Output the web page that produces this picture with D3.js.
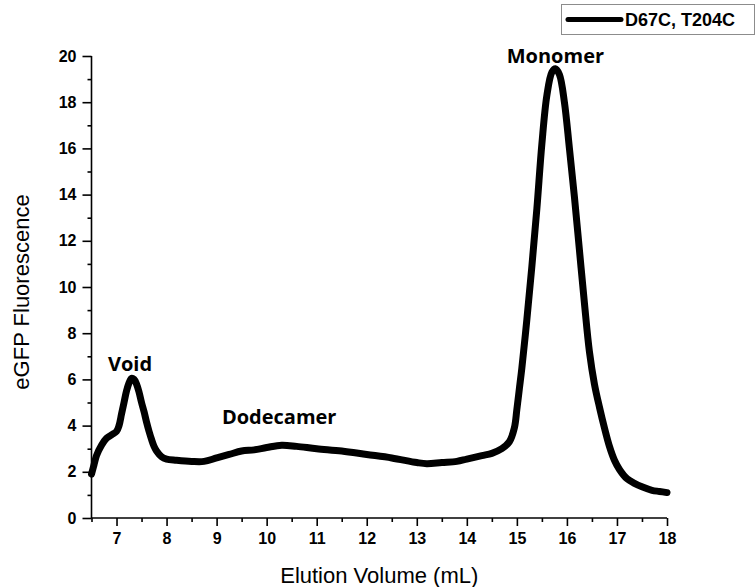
<!DOCTYPE html>
<html>
<head>
<meta charset="utf-8">
<script src="https://cdn.jsdelivr.net/npm/d3@7"></script>
<style>
  html, body { margin: 0; padding: 0; background: #fff; }
  svg { display: block; }
  .tick text { font-family: "Liberation Sans", Arial, sans-serif; font-weight: bold; font-size: 16px; fill: #000; }
  .axis path, .axis line { stroke: #000; stroke-width: 1.6px; }
</style>
</head>
<body>
<script>
// Elution volume (mL) and eGFP fluorescence for the size-exclusion trace
const volume = [6.5, 6.55, 6.6, 6.7, 6.8, 6.9, 7.0, 7.05, 7.1, 7.15, 7.2, 7.25, 7.3, 7.35, 7.4, 7.45,
  7.5, 7.55, 7.6, 7.65, 7.7, 7.75, 7.8, 7.9, 8.0, 8.2, 8.5, 8.75, 9.0, 9.25, 9.5, 9.75, 10.0, 10.3,
  10.6, 11.0, 11.5, 12.0, 12.5, 13.0, 13.2, 13.5, 13.8, 14.0, 14.3, 14.5, 14.7, 14.85, 14.95, 15.0,
  15.05, 15.1, 15.2, 15.3, 15.4, 15.5, 15.6, 15.7, 15.77, 15.85, 15.95, 16.05, 16.15, 16.25, 16.35,
  16.45, 16.55, 16.65, 16.75, 16.85, 16.95, 17.05, 17.2, 17.35, 17.5, 17.7, 17.85, 18.0];
const fluorescence = [1.9, 2.3, 2.7, 3.15, 3.45, 3.6, 3.75, 4.0, 4.5, 5.0, 5.5, 5.85, 6.05, 6.0, 5.8, 5.45,
  5.0, 4.6, 4.15, 3.75, 3.4, 3.1, 2.9, 2.65, 2.55, 2.5, 2.45, 2.45, 2.6, 2.75, 2.9, 2.95, 3.05, 3.15,
  3.1, 3.0, 2.9, 2.75, 2.6, 2.4, 2.35, 2.4, 2.45, 2.55, 2.7, 2.8, 3.0, 3.3, 3.9, 4.7,
  5.6, 6.5, 8.6, 10.9, 13.4, 16.2, 18.3, 19.3, 19.45, 19.2, 18.0, 16.0, 13.9, 11.6, 9.3,
  7.2, 5.8, 4.8, 3.9, 3.1, 2.5, 2.1, 1.7, 1.5, 1.35, 1.2, 1.15, 1.1];

const xMajorTicks = [7, 8, 9, 10, 11, 12, 13, 14, 15, 16, 17, 18];
const xMinorTicks = [6.5, 7.5, 8.5, 9.5, 10.5, 11.5, 12.5, 13.5, 14.5, 15.5, 16.5, 17.5];
const yMajorTicks = [0, 2, 4, 6, 8, 10, 12, 14, 16, 18, 20];
const yMinorTicks = [1, 3, 5, 7, 9, 11, 13, 15, 17, 19];

// Peak annotations: label and the volume / height of its baseline
const peakLabels = ["Void", "Dodecamer", "Monomer"];
const peakVolumes = [7.27, 10.25, 15.77];
const peakHeights = [6.35, 4.07, 19.7];

const seriesName = "D67C, T204C";

const W = 756, H = 587;
const svg = d3.select("body").append("svg").attr("width", W).attr("height", H);

const x = d3.scaleLinear().domain([6.5, 18]).range([91.5, 667]);
const y = d3.scaleLinear().domain([0, 20]).range([518, 56]);

// X axis: labelled whole-mL ticks, unlabelled half-mL ticks
const gx = svg.append("g").attr("class", "axis").attr("transform", `translate(0,${y(0)})`);
gx.call(d3.axisBottom(x).tickValues(xMinorTicks).tickSize(4).tickFormat(""));
gx.call(g => g.select(".domain").remove());
const gx2 = svg.append("g").attr("class", "axis").attr("transform", `translate(0,${y(0)})`);
gx2.call(d3.axisBottom(x).tickValues(xMajorTicks).tickSize(8).tickSizeOuter(0).tickPadding(7).tickFormat(d3.format("d")));
gx2.select(".domain").attr("d", `M${x(6.5)},0H${x(18)}`);

// Y axis
const gy = svg.append("g").attr("class", "axis").attr("transform", `translate(${x(6.5)},0)`);
gy.call(d3.axisLeft(y).tickValues(yMinorTicks).tickSize(4).tickFormat(""));
gy.call(g => g.select(".domain").remove());
const gy2 = svg.append("g").attr("class", "axis").attr("transform", `translate(${x(6.5)},0)`);
gy2.call(d3.axisLeft(y).tickValues(yMajorTicks).tickSize(9).tickSizeOuter(0).tickPadding(6).tickFormat(d3.format("d")));
gy2.select(".domain").attr("d", `M0,${y(0)}V${y(20)}`);

// Axis titles
svg.append("text")
  .attr("x", (x(6.5) + x(18)) / 2).attr("y", 583)
  .attr("text-anchor", "middle")
  .style("font-family", "'Liberation Sans', Arial, sans-serif").style("font-size", "22px")
  .text("Elution Volume (mL)");
svg.append("text")
  .attr("transform", `translate(29,292) rotate(-90)`)
  .attr("text-anchor", "middle")
  .style("font-family", "'Liberation Sans', Arial, sans-serif").style("font-size", "22px")
  .text("eGFP Fluorescence");

// Trace
const pts = volume.map((v, i) => [v, fluorescence[i]]);
svg.append("path")
  .datum(pts)
  .attr("fill", "none")
  .attr("stroke", "#000")
  .attr("stroke-width", 7)
  .attr("stroke-linejoin", "round")
  .attr("stroke-linecap", "round")
  .attr("d", d3.line().x(d => x(d[0])).y(d => y(d[1])).curve(d3.curveCatmullRom.alpha(0.5)));

// Peak labels
svg.selectAll("text.peak")
  .data(peakLabels)
  .join("text")
  .attr("class", "peak")
  .attr("x", (d, i) => x(peakVolumes[i]))
  .attr("y", (d, i) => y(peakHeights[i]))
  .attr("text-anchor", "middle")
  .style("font-family", "'Open Sans', sans-serif").style("font-weight", "bold").style("font-size", "20px")
  .text(d => d);

// Legend
const lg = svg.append("g");
lg.append("rect").attr("x", 561.5).attr("y", 4.5).attr("width", 193).attr("height", 30)
  .attr("fill", "#fff").attr("stroke", "#8c8c8c").attr("stroke-width", 1);
lg.append("line").attr("x1", 568).attr("x2", 621).attr("y1", 19.5).attr("y2", 19.5)
  .attr("stroke", "#000").attr("stroke-width", 5).attr("stroke-linecap", "round");
lg.append("text").attr("x", 625).attr("y", 26)
  .style("font-family", "'Liberation Sans', Arial, sans-serif").style("font-weight", "bold").style("font-size", "18px")
  .text(seriesName);
</script>
</body>
</html>
